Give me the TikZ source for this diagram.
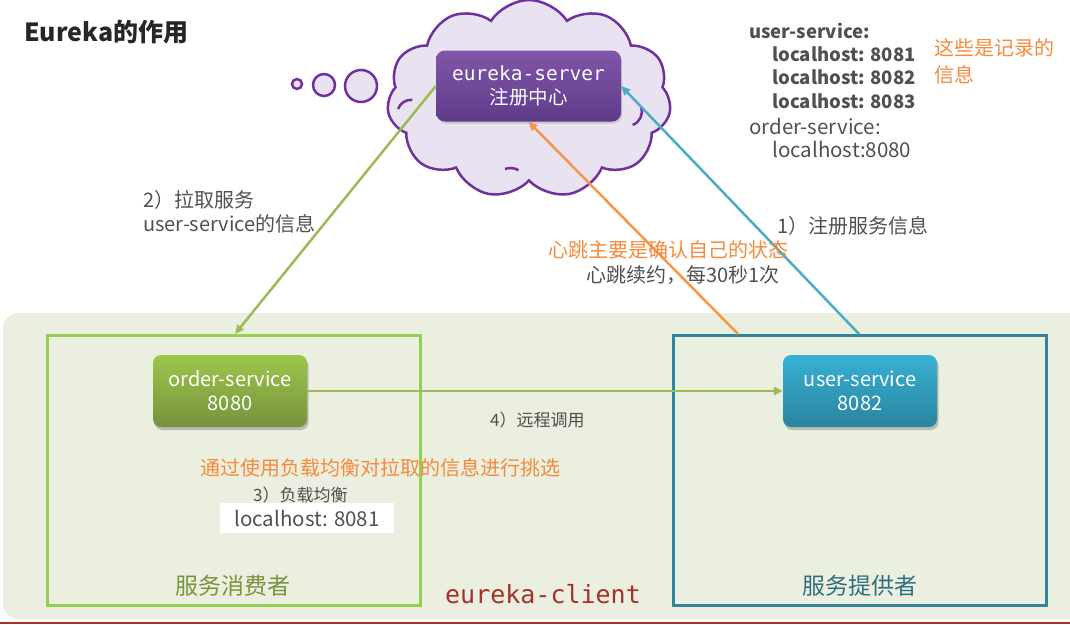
\documentclass[tikz,border=0pt]{standalone}
\usepackage{fontspec}
\setmainfont{Noto Sans CJK SC}
\newfontfamily\monofont{DejaVu Sans Mono}
\usetikzlibrary{shapes.symbols,shadows,arrows.meta}
\definecolor{titlegray}{HTML}{262626}
\definecolor{txtgray}{HTML}{505050}
\definecolor{cloudfill}{HTML}{E9E2F0}
\definecolor{cloudline}{HTML}{7030A0}
\definecolor{srvtop}{HTML}{8056A8}
\definecolor{srvbot}{HTML}{5F3B8A}
\definecolor{bggreen}{HTML}{EBEFDF}
\definecolor{framegreen}{HTML}{92D050}
\definecolor{frameblue}{HTML}{31849B}
\definecolor{consgreen}{HTML}{77933C}
\definecolor{provblue}{HTML}{2F6E80}
\definecolor{ordtop}{HTML}{9DC64B}
\definecolor{ordbot}{HTML}{76923C}
\definecolor{usrtop}{HTML}{37B1D5}
\definecolor{usrbot}{HTML}{2A849F}
\definecolor{agreen}{HTML}{9BBB59}
\definecolor{aorange}{HTML}{F79646}
\definecolor{ablue}{HTML}{4BACC6}
\definecolor{noteorange}{HTML}{F58A3C}
\definecolor{dred}{HTML}{A8302A}
\newcommand\fs[2]{\fontsize{#1}{#2}\selectfont}
\tikzset{
  lbl/.style={inner sep=0pt, anchor=west, text=txtgray},
  svc/.style={rounded corners=8pt, minimum width=154pt, minimum height=72pt, inner sep=0pt,
    text=white, align=center, font=\fs{20}{24},
    drop shadow={shadow xshift=1.5pt, shadow yshift=-3pt, opacity=0.45}},
  frame/.style={line width=3pt, inner sep=0pt, outer sep=0pt, minimum width=373pt, minimum height=270pt},
  arr/.style={line width=2.5pt, -{Triangle[length=9pt,width=8pt]}},
  bubble/.style={circle, draw=cloudline, fill=cloudfill, line width=2.5pt, inner sep=0pt},
  hook/.style={draw=cloudline, line width=2.5pt},
}
\begin{document}
\begin{tikzpicture}[x=1pt,y=-1pt]
\useasboundingbox (0,0) rectangle (1070,624);
\begin{scope}
\clip (0,0) rectangle (1070,624);
% background panel
\fill[bggreen, rounded corners=15pt] (3,313) rectangle (1110,619);
\draw[dred, line width=2.5pt] (0,623) -- (1070,623);
% frames
\node[frame, draw=framegreen] (consumer) at (233.5,470) {};
\node[frame, draw=frameblue] (provider) at (859.5,470) {};
\node[font=\fs{23}{26}, text=consgreen] (conslbl) at (233,586) {服务消费者};
\node[font=\fs{23}{26}, text=provblue] (provlbl) at (860,586) {服务提供者};
\node[font=\monofont\fs{25}{30}, text=dred] (client) at (543,594) {eureka-client};
% title
\node[lbl, text=titlegray, font=\bfseries\fs{25}{29}] (title) at (24,32) {Eureka的作用};
% cloud
\node[cloud, cloud puffs=11, cloud puff arc=115, aspect=1.55, draw=cloudline, fill=cloudfill,
  line width=2.5pt, minimum width=284pt, minimum height=198pt, inner sep=0pt] (cloud) at (529,99) {};
\draw[hook] (cloud.center) ++(-131,10) arc[start angle=200, end angle=275, radius=14];
\draw[hook] (cloud.center) ++(112,8) arc[start angle=-20, end angle=70, radius=14];
\draw[hook] (cloud.center) ++(-24,70) arc[start angle=250, end angle=300, radius=16];
\node[bubble, minimum size=10pt] (b1) at (297,84) {};
\node[bubble, minimum size=22pt] (b2) at (324,85) {};
\node[bubble, minimum size=32pt] (b3) at (361,86) {};
% coordinates for arrow ends
\coordinate (pullE) at (235,334);
\coordinate (hbS) at (738,334);
\coordinate (regS) at (859,334);
% server
\node[rounded corners=9pt, minimum width=185pt, minimum height=71pt, inner sep=0pt,
  top color=srvtop, bottom color=srvbot, text=white!92!cloudfill, align=center,
  font=\fs{19.5}{24},
  drop shadow={shadow xshift=1pt, shadow yshift=-2pt, opacity=0.3}] (server) at (528.5,86)
  {{\monofont eureka-server}\\注册中心};
% services
\node[svc, top color=ordtop, bottom color=ordbot] (order) at (230,391) {order-service\\8080};
\node[svc, top color=usrtop, bottom color=usrbot] (user) at (860,391) {user-service\\8082};
% arrows
\draw[arr, agreen] (server.west) -- (pullE);
\draw[arr, aorange] (hbS) -- (server.south);
\draw[arr, ablue] (regS) -- (server.east);
\draw[arr, agreen] (order.east) -- (user.west);
% right info block
\node[lbl, font=\bfseries\fs{18.5}{22}] (r1) at (749,31) {user-service:};
\node[lbl, font=\bfseries\fs{18.5}{22}] (r2) at (772,54) {localhost: 8081};
\node[lbl, font=\bfseries\fs{18.5}{22}] (r3) at (772,77) {localhost: 8082};
\node[lbl, font=\bfseries\fs{18.5}{22}] (r4) at (772,101) {localhost: 8083};
\node[lbl, font=\fs{20.5}{24}] (r5) at (749,126) {order-service:};
\node[lbl, font=\fs{20.5}{24}] (r6) at (772,149) {localhost:8080};
\node[lbl, text=noteorange, font=\fs{20}{27}, align=left, anchor=north west] (note) at (934,38) {这些是记录的\\信息};
% labels
\node[lbl, font=\fs{20}{24}, align=left, anchor=north west] (pulllbl) at (143,190) {2）拉取服务\\user-service的信息};
\node[lbl, font=\fs{20}{24}] (reglbl) at (777,226) {1）注册服务信息};
\node[lbl, text=noteorange, font=\fs{20}{24}] (hbnote) at (548,250) {心跳主要是确认自己的状态};
\node[lbl, font=\fs{20}{24}] (hblbl) at (586,275) {心跳续约，每30秒1次};
\node[lbl, font=\fs{17}{20}] (calllbl) at (490,420) {4）远程调用};
\node[lbl, text=noteorange, font=\fs{20}{24}] (lbnote) at (200,468) {通过使用负载均衡对拉取的信息进行挑选};
\node[lbl, font=\fs{17}{20}] (lblbl) at (253,495) {3）负载均衡};
\node[fill=white, minimum width=174pt, minimum height=30pt, inner sep=0pt, text=txtgray, font=\fs{20.5}{24}] (lbhost) at (307,518) {localhost: 8081};
\end{scope}
\end{tikzpicture}
\end{document}
